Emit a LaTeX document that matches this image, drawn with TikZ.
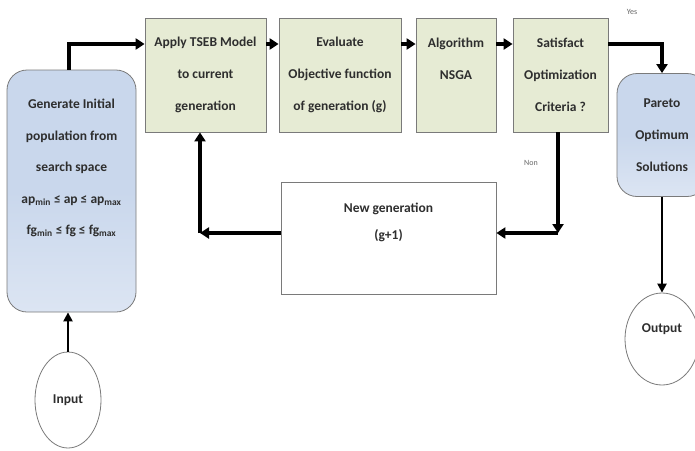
\documentclass[tikz,border=0pt]{standalone}
\usepackage{fontspec}
\setmainfont{Carlito}
\usetikzlibrary{arrows.meta,shapes.geometric}
\definecolor{boxgreen}{HTML}{E6EBD4}
\definecolor{boxblue}{HTML}{C9D7EC}
\definecolor{boxbluelight}{HTML}{DCE5F3}
\definecolor{edgegray}{HTML}{7A7A7A}
\definecolor{txtgray}{HTML}{2E2E2E}
\begin{document}
\begin{tikzpicture}[x=1pt,y=-1pt,
  txt/.style={font=\bfseries\fontsize{13.5}{32}\selectfont, text=txtgray, align=center, inner sep=0pt},
  greenbox/.style={draw=edgegray, line width=0.8pt, fill=boxgreen, minimum height=114pt, txt},
  bluebox/.style={draw=edgegray, line width=0.8pt, top color=boxblue, bottom color=boxbluelight, middle color=boxblue, rounded corners=20pt},
  whitebox/.style={draw=edgegray, line width=0.8pt, fill=white},
  oval/.style={draw=edgegray, line width=0.8pt, ellipse, fill=white, txt},
  arrthick/.style={line width=3.4pt, -{Triangle[length=9pt,width=11pt]}},
  arrthin/.style={line width=2.2pt, -{Triangle[length=9pt,width=9pt]}},
  small/.style={font=\fontsize{8}{9}\selectfont, text=black!60, inner sep=0pt}
]
\useasboundingbox (0,0) rectangle (695,450);
% boxes
\node[bluebox, minimum width=129pt, minimum height=242pt] (gen) at (71.5,191) {};
\node[txt, font=\bfseries\fontsize{13.5}{31.5}\selectfont, anchor=north] (gentext) at (71.5,99) {Generate Initial\\population from\\search space\\ap\textsubscript{min} ≤ ap ≤ ap\textsubscript{max}\\fg\textsubscript{min} ≤ fg ≤ fg\textsubscript{max}};
\node[greenbox, minimum width=121pt] (apply) at (205.5,75) {Apply TSEB Model\\to current\\generation};
\node[greenbox, minimum width=122pt] (eval) at (340,75) {Evaluate\\Objective function\\of generation (g)};
\node[greenbox, minimum width=80pt] (alg) at (456,75) {Algorithm\\NSGA\\\mbox{}};
\node[greenbox, minimum width=95pt] (sat) at (560.5,75) {Satisfact\\Optimization\\Criteria ?};
\node[bluebox, minimum width=90pt, minimum height=123pt, txt] (par) at (662,135) {Pareto\\Optimum\\Solutions};
\node[whitebox, minimum width=215pt, minimum height=112pt] (ng) at (388.5,238) {};
\node[txt, font=\bfseries\fontsize{13.5}{27}\selectfont, anchor=north] (ngtext) at (388.5,203) {New generation\\(g+1)};
\node[oval, minimum width=66pt, minimum height=96pt] (in) at (68,400) {Input};
\node[oval, minimum width=74pt, minimum height=92pt] (out) at (662,339) {Output\\[-10pt]\mbox{}};
% labels
\node[small] (yes) at (632,12) {Yes};
\node[small] (non) at (531,163) {Non};
% coordinates
\coordinate (c1) at (558,233);
\coordinate (c2) at (200,233);
% connectors
\draw[arrthick] (69,70 |- gen.north) |- (apply.west |- 0,44);
\draw[arrthick] (apply.east |- 0,44) -- (eval.west |- 0,44);
\draw[arrthick] (eval.east |- 0,44) -- (alg.west |- 0,44);
\draw[arrthick] (alg.east |- 0,44) -- (sat.west |- 0,44);
\draw[arrthick] (sat.east |- 0,44) -| (par.north);
\draw[arrthick] (sat.south -| c1) -- (c1);
\draw[arrthick] (c1) -- (ng.east |- c1);
\draw[arrthick] (ng.west |- c2) -- (c2);
\draw[arrthick] (c2) -- (c2 |- apply.south);
\draw[arrthin] (in.north) -- (in.north |- gen.south);
\draw[arrthin] (par.south) -- (out.north);
\end{tikzpicture}
\end{document}
